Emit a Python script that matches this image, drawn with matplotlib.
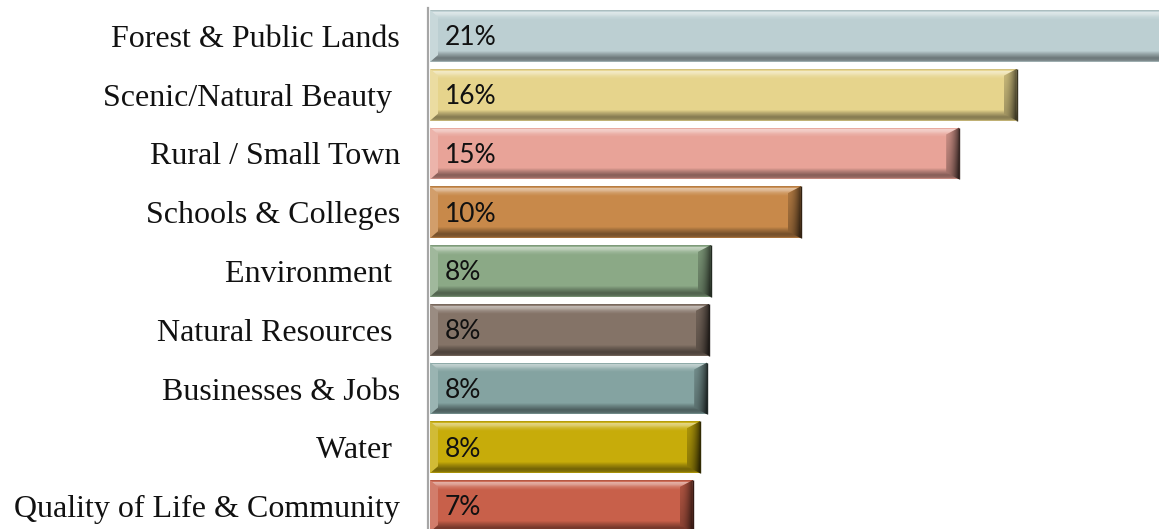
import numpy as np
import matplotlib
matplotlib.use("Agg")
import matplotlib.pyplot as plt
from matplotlib.patches import Polygon
from matplotlib.colors import to_rgb

categories = ["Forest & Public Lands", "Scenic/Natural Beauty ", "Rural / Small Town",
              "Schools & Colleges", "Environment ", "Natural Resources ",
              "Businesses & Jobs", "Water ", "Quality of Life & Community"]
values = [21.0, 16.3, 14.7, 10.3, 7.8, 7.75, 7.7, 7.5, 7.3]
value_labels = ["21%", "16%", "15%", "10%", "8%", "8%", "8%", "8%", "7%"]
colors = ["#BCCFD2", "#E6D48C", "#E8A398", "#C8894A", "#8BA986",
          "#847367", "#84A3A1", "#C7AC0A", "#C8604A"]

W, H = 1159, 529
fig = plt.figure(figsize=(W / 100, H / 100), dpi=100)
ax_l, ax_top = 428, 8
ax = fig.add_axes([ax_l / W, 0, 1 - ax_l / W, (H - ax_top) / H])
px_x = 36.0     # pixels per percent
px_y = 58.75    # pixels per category
off = 2 / px_x
xmax = (W - ax_l) / px_x
ax.set_xlim(-off, xmax - off)
ax.set_ylim((H - 36) / px_y, -(36 - ax_top) / px_y)

for s in ["top", "right", "bottom"]:
    ax.spines[s].set_visible(False)
ax.spines["left"].set_position(("data", -off))
ax.spines["left"].set_color("#A6A6A6")
ax.spines["left"].set_linewidth(1.6)
ax.spines["left"].set_zorder(7)

bar_h = 0.885
ypos = np.arange(len(categories))
bars = ax.barh(ypos, values, height=bar_h, color=colors, zorder=2)


def mix(c, f):
    c = np.array(to_rgb(c))
    if f >= 0:
        return c + (1 - c) * f
    return c * (1 + f)


# vertical shading profile (pixel rows of a 52 px bar -> blend factor)
hp = 52.0
prof_pos = np.array([0, 1.2, 2.5, 4.5, 7, 10, 41, 44, 48, 50.5, 52]) / hp
prof_val = np.array([-0.05, -0.12, 0.5, 0.4, 0.15, 0.0, 0.0, -0.2, -0.42, -0.35, -0.1])
ny = 208
ts = (np.arange(ny) + 0.5) / ny
fs = np.interp(ts, prof_pos, prof_val)

bx = 13 / px_x
bl = 8 / px_x
by = 7 / px_y
for bar, col in zip(bars, colors):
    x0 = bar.get_x()
    x1 = x0 + bar.get_width()
    yt = bar.get_y()
    yb = yt + bar.get_height()
    row = np.array([mix(col, f) for f in fs])
    img = np.repeat(row[:, None, :], 4, axis=1)
    im = ax.imshow(img, extent=(x0, x1, yb, yt), aspect="auto",
                   interpolation="nearest", zorder=3)
    im.set_clip_path(bar)
    # left bevel face
    lpoly = Polygon([(x0, yt), (x0, yb), (x0 + bl, yb - by), (x0 + bl, yt + by)],
                    closed=True, facecolor=mix(col, 0.18), edgecolor="none", zorder=4)
    ax.add_patch(lpoly)
    # right bevel face
    poly = Polygon([(x1, yt), (x1, yb), (x1 - bx, yb - by), (x1 - bx, yt + by)],
                   closed=True, transform=ax.transData)
    n = 40
    face = np.zeros((n, n, 3))
    for iy in range(n):
        vy = iy / (n - 1)
        for ix in range(n):
            vx = ix / (n - 1)
            face[iy, ix] = mix(col, -0.12 - 0.5 * vx ** 1.8 - 0.2 * vy)
    im2 = ax.imshow(face, extent=(x1 - bx, x1, yb, yt), aspect="auto",
                    interpolation="bilinear", zorder=4)
    im2.set_clip_path(poly)
    ax.plot([x1, x1], [yt, yb], color=mix(col, -0.75), lw=1.0, zorder=5,
            solid_capstyle="butt")

for y, lab in zip(ypos, value_labels):
    ax.text(15 / px_x, y + 0.03, lab, ha="left", va="center", fontsize=19,
            family=["Lato", "DejaVu Sans"], color="#111111", zorder=6)

ax.set_xticks([])
ax.set_yticks(ypos)
ax.set_yticklabels(categories, fontsize=23, family=["Liberation Serif", "DejaVu Serif"],
                   color="#111111")
ax.tick_params(axis="y", length=0, pad=20)

fig.savefig("out.png", dpi=100)
